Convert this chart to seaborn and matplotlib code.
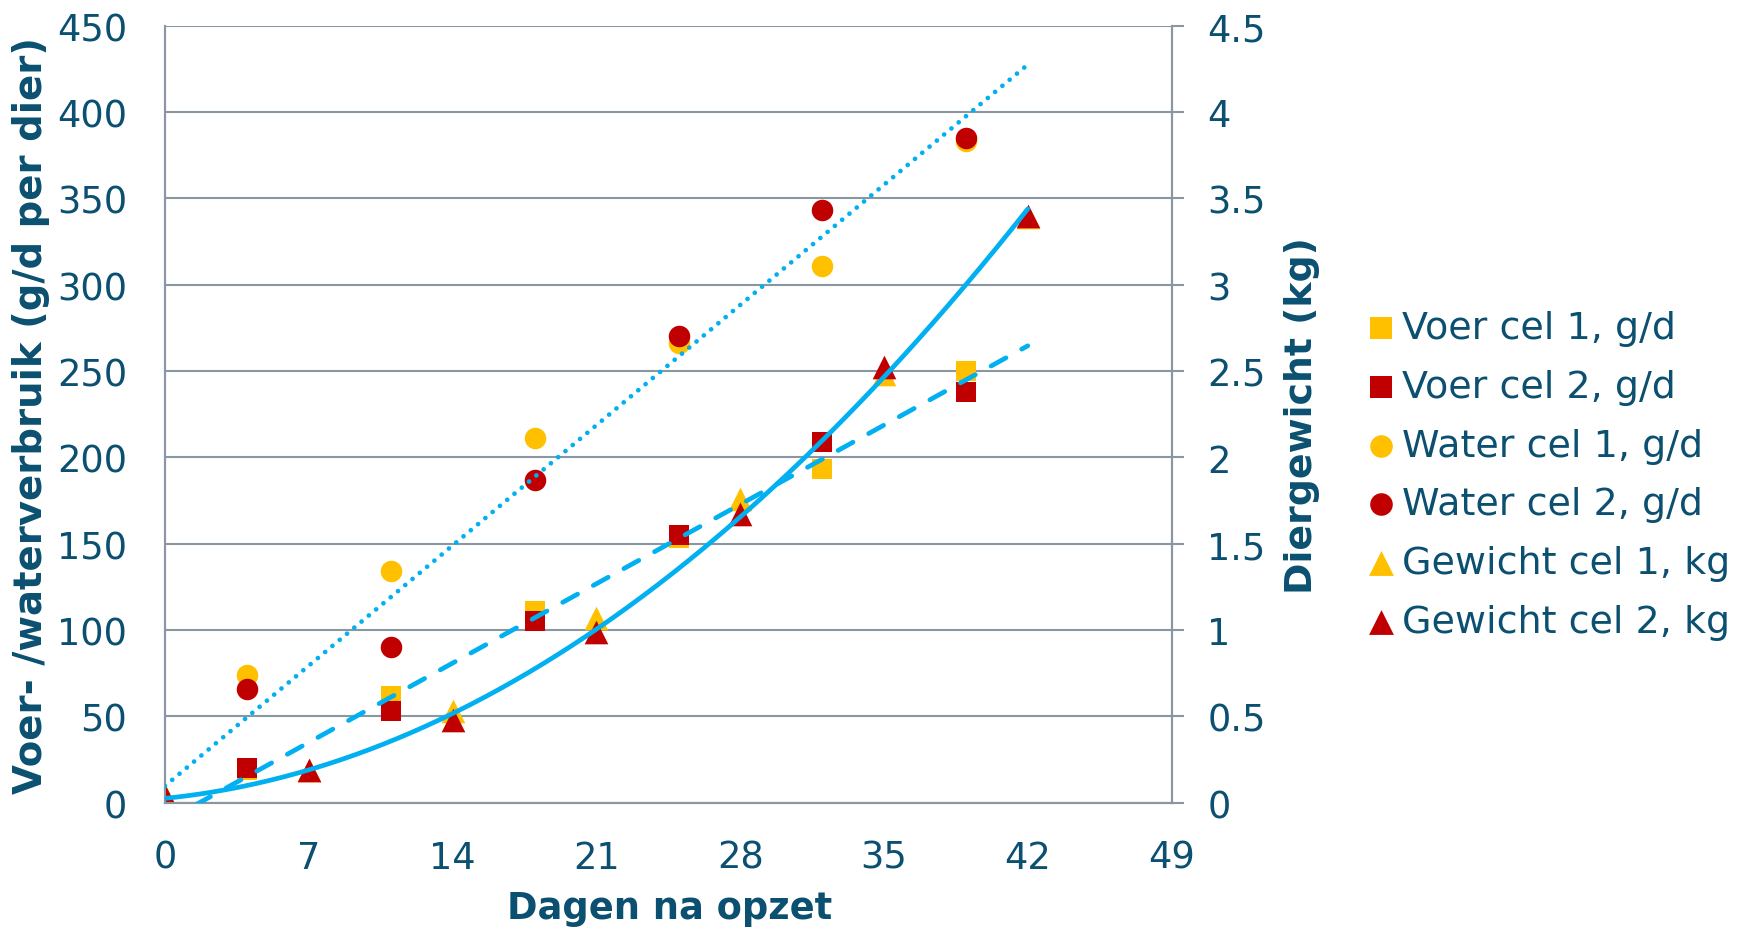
import numpy as np
import seaborn as sns
import matplotlib.pyplot as plt

# days and measured values
dagen_vw = [4, 11, 18, 25, 32, 39]
voer_cel1 = [19, 62, 111, 153, 193, 250]
voer_cel2 = [20, 53, 105, 155, 209, 238]
water_cel1 = [74, 134, 211, 266, 311, 383]
water_cel2 = [66, 90, 187, 270, 343, 385]

dagen_gew = [0, 7, 14, 21, 28, 35, 42]
gewicht_cel1 = [0.04, 0.19, 0.53, 1.07, 1.76, 2.48, 3.39]
gewicht_cel2 = [0.04, 0.19, 0.48, 0.99, 1.67, 2.52, 3.40]

x_ticks = [0, 7, 14, 21, 28, 35, 42, 49]

GEEL = "#FFC000"
ROOD = "#C00000"
BLAUW = "#00B0F0"
TEKST = "#0B5070"
GRIJS = "#8A96A2"

sns.set_theme(style="white")
plt.rcParams["font.family"] = ["DejaVu Sans"]

fig = plt.figure(figsize=(17.38, 9.29), dpi=100)
ax = fig.add_axes([0.0949, 0.135, 0.5792, 0.8364])
ax2 = ax.twinx()
# primary axis on top of secondary, so the weight markers sit underneath
ax.set_zorder(ax2.get_zorder() + 1)
ax.patch.set_visible(False)

series = [
    (ax, dagen_vw, voer_cel1, "s", GEEL, "Voer cel 1, g/d", 225),
    (ax, dagen_vw, voer_cel2, "s", ROOD, "Voer cel 2, g/d", 225),
    (ax, dagen_vw, water_cel1, "o", GEEL, "Water cel 1, g/d", 240),
    (ax, dagen_vw, water_cel2, "o", ROOD, "Water cel 2, g/d", 240),
    (ax2, dagen_gew, gewicht_cel1, "^", GEEL, "Gewicht cel 1, kg", 290),
    (ax2, dagen_gew, gewicht_cel2, "^", ROOD, "Gewicht cel 2, kg", 290),
]
for a, x, y, m, c, lab, s in series:
    sns.scatterplot(x=x, y=y, marker=m, color=c, s=s, linewidth=0,
                    ax=a, label=lab, legend=False, zorder=3)

# trendlines (Excel-style) from the cel 2 series
x_fit = np.linspace(0, 42, 300)
lw = 3.4
p_water = np.polyfit(dagen_vw, water_cel2, 1)
ax.plot(x_fit, np.polyval(p_water, x_fit), color=BLAUW, lw=lw,
        ls=(0, (0.01, 2.0)), dash_capstyle="round", zorder=5)
p_voer = np.polyfit(dagen_vw, voer_cel2, 1)
ax.plot(x_fit, np.polyval(p_voer, x_fit), color=BLAUW, lw=lw,
        ls=(0, (3.6, 3.8)), dash_capstyle="round", zorder=5)
p_gew = np.polyfit(dagen_gew, gewicht_cel2, 2)
ax.plot(x_fit, np.polyval(p_gew, x_fit), color=BLAUW, lw=lw,
        transform=ax2.transData, zorder=5)

ax.set_xlim(0, 49)
ax.set_ylim(0, 450)
ax2.set_ylim(0, 4.5)
ax.set_xticks(x_ticks)
ax.set_yticks(np.arange(0, 451, 50))
ax2.set_yticks(np.arange(0, 4.51, 0.5))
ax2.set_yticklabels(["0", "0.5", "1", "1.5", "2", "2.5", "3", "3.5", "4", "4.5"])

ax2.grid(True, axis="y", color=GRIJS, lw=1.5)
ax2.grid(False, axis="x")
ax.grid(False)

for a in (ax, ax2):
    for side, sp in a.spines.items():
        sp.set_color(GRIJS)
        sp.set_linewidth(1.5)
    a.spines["top"].set_visible(False)

ax.tick_params(axis="both", length=0, labelsize=26.5, labelcolor=TEKST)
ax.tick_params(axis="y", pad=27)
ax.tick_params(axis="x", pad=26)
ax2.tick_params(axis="y", length=8.6, width=1.5, color=GRIJS, direction="out",
                labelsize=26.5, labelcolor=TEKST, pad=17)

ax.set_xlabel("Dagen na opzet", fontsize=26.5, fontweight="bold", color=TEKST, va="top")
ax.xaxis.set_label_coords(0.501, -0.111)
ax.set_ylabel("Voer- /waterverbruik (g/d per dier)", fontsize=27.8,
              fontweight="bold", color=TEKST, va="center")
ax.yaxis.set_label_coords(-0.133, 0.5)
ax2.set_ylabel("Diergewicht (kg)", fontsize=27.3, fontweight="bold",
               color=TEKST, va="center")
ax2.yaxis.set_label_coords(1.1295, 0.5)

handles, labels = [], []
for a in (ax, ax2):
    h, l = a.get_legend_handles_labels()
    handles += h
    labels += l
fig.legend(handles, labels, loc="center left", bbox_to_anchor=(0.788, 0.4876),
           frameon=False, fontsize=27.4, labelcolor=TEKST, handlelength=0.6,
           handletextpad=0.25, borderpad=0, labelspacing=0.6, borderaxespad=0,
           markerscale=1.05)

fig.savefig("out.png", dpi=100)
